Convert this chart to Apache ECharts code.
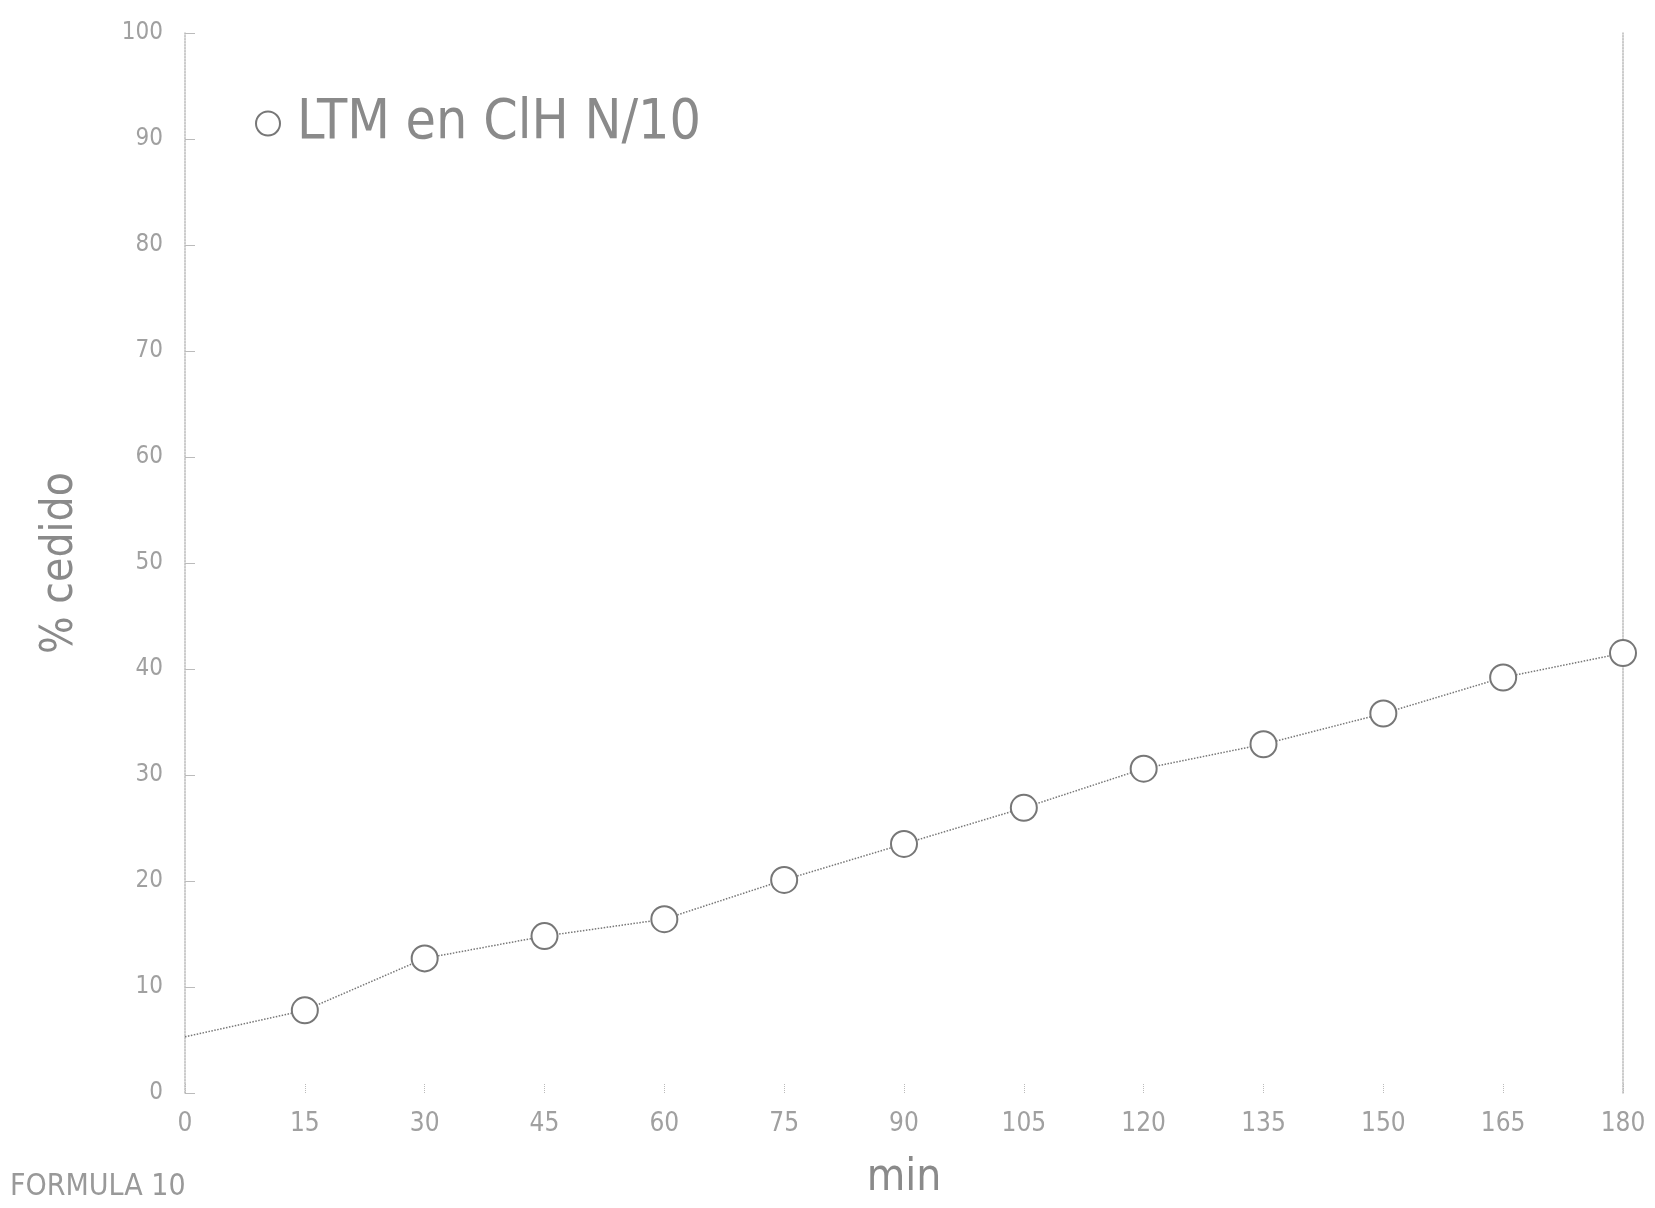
<!DOCTYPE html>
<html>
<head>
<meta charset="utf-8">
<script src="https://cdn.jsdelivr.net/npm/echarts@6/dist/echarts.min.js"></script>
<style>
html,body{margin:0;padding:0;background:#fff;}
#chart{width:1655px;height:1208px;}
</style>
</head>
<body>
<div id="chart"></div>
<script>
const minutes = [0, 15, 30, 45, 60, 75, 90, 105, 120, 135, 150, 165, 180];
const cedido  = [5.3, 7.8, 12.7, 14.8, 16.4, 20.1, 23.5, 26.9, 30.6, 32.9, 35.8, 39.2, 41.5];
const seriesName = 'LTM en ClH N/10';
const xTicks = [0, 15, 30, 45, 60, 75, 90, 105, 120, 135, 150, 165, 180];
const yTicks = [0, 10, 20, 30, 40, 50, 60, 70, 80, 90, 100];
const footnote = 'FORMULA 10';

const fontFam = "'Liberation Sans Narrow','DejaVu Sans Condensed','Liberation Sans',sans-serif";
const grey = '#8a8a8a';

const chart = echarts.init(document.getElementById('chart'));
const data = minutes.map((m, i) => i === 0 ? {value: [m, cedido[i]], symbol: 'none'} : [m, cedido[i]]);

chart.setOption({
  backgroundColor: '#fff',
  animation: false,
  grid: {left: 185, right: 32, top: 33, bottom: 115},
  legend: {
    left: 250, top: 91,
    icon: 'emptyCircle',
    itemWidth: 24, itemHeight: 24, itemGap: 10,
    itemStyle: {color: '#777', borderColor: '#777', borderWidth: 1.5},
    textStyle: {fontSize: 55, color: grey, fontFamily: fontFam, fontWeight: 'lighter', padding: [0, 0, 0, 12]},
    data: [seriesName]
  },
  xAxis: {
    type: 'value', min: 0, max: 180, interval: 15,
    name: 'min', nameLocation: 'middle', nameGap: 64,
    nameTextStyle: {fontSize: 44, color: grey, fontFamily: fontFam},
    axisLine: {show: false},
    axisTick: {show: true, inside: true, length: 10, lineStyle: {color: '#bbb', type: 'dotted'}},
    axisLabel: {fontSize: 26, color: '#a0a0a0', fontFamily: fontFam, margin: 18},
    splitLine: {show: false}
  },
  yAxis: [{
    type: 'value', min: 0, max: 100, interval: 10,
    name: '% cedido', nameLocation: 'middle', nameGap: 102, nameRotate: 90,
    nameTextStyle: {fontSize: 44, color: grey, fontFamily: fontFam},
    axisLine: {show: true, lineStyle: {color: '#bbb', type: 'dotted', width: 1.5}},
    axisTick: {show: true, inside: true, length: 10, lineStyle: {color: '#bbb'}},
    axisLabel: {fontSize: 24, color: '#a0a0a0', fontFamily: fontFam, margin: 22},
    splitLine: {show: false}
  }, {
    type: 'value', min: 0, max: 100, interval: 10, position: 'right',
    axisLine: {show: true, lineStyle: {color: '#bbb', type: 'dotted', width: 1.5}},
    axisTick: {show: false}, axisLabel: {show: false}, splitLine: {show: false}
  }],
  series: [{
    name: seriesName,
    type: 'line',
    data: data,
    symbol: 'emptyCircle',
    symbolSize: 26,
    showSymbol: true,
    lineStyle: {color: '#777', width: 1.5, type: 'dotted'},
    itemStyle: {color: '#777', borderColor: '#777', borderWidth: 1.2}
  }],
  graphic: [{
    type: 'text', left: 10, top: 1172,
    style: {text: footnote, fontSize: 30, fill: '#999', fontFamily: fontFam}
  }]
});
</script>
</body>
</html>
